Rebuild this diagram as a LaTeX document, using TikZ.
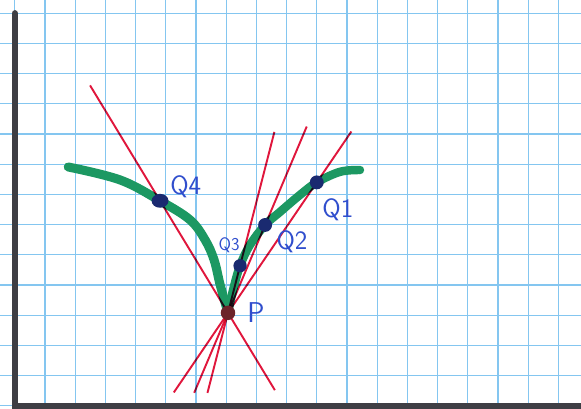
\documentclass[tikz,border=0pt]{standalone}
\definecolor{gridblue}{RGB}{132,198,240}
\definecolor{curvegreen}{RGB}{28,152,98}
\definecolor{chordred}{RGB}{224,22,60}
\definecolor{inkblue}{RGB}{48,78,205}
\definecolor{dotblue}{RGB}{26,42,112}
\definecolor{dotred}{RGB}{108,36,42}
\definecolor{axisgray}{RGB}{62,62,68}
\usepackage{tikz}
\usetikzlibrary{calc}

\begin{document}
\begin{tikzpicture}[
    chord/.style={chordred,line width=1.8pt},
    lbl/.style={text=inkblue,font=\sffamily\fontsize{25}{25}\selectfont,inner sep=0pt}
  ]
        \useasboundingbox (-0.49,-0.1) rectangle (18.75,13.44);
        \fill[white] (-0.49,-0.1) rectangle (18.75,13.44);
        \draw[gridblue,line width=1.1pt] (-0.49,-0.1) grid (18.75,13.44);
        \draw[axisgray,line width=6pt] (-0.1,0) -- (18.75,0);
        \draw[axisgray,line width=6pt,line cap=round] (0,0) -- (0,13.0);
        \coordinate (p) at (7.06,3.08);
        \coordinate (q1) at (10.0,7.40);
        \coordinate (q2) at (8.29,5.99);
        \coordinate (q3) at (7.46,4.64);
        \coordinate (q4) at (4.81,6.79);
        \draw[curvegreen,line width=8.5pt,line cap=round]
          plot[smooth,tension=0.6] coordinates {(1.77,7.91) (3.49,7.48) (q4) (5.80,6.16) (6.30,5.50) (6.60,4.83) (6.80,4.01) (p)};
        \draw[curvegreen,line width=8pt,line cap=round]
          plot[smooth,tension=0.6] coordinates {(p) (7.23,3.84) (q3) (7.79,5.33) (q2) (8.78,6.42) (9.45,6.99) (q1) (10.77,7.75) (11.43,7.81)};
        \begin{scope}[blend mode=multiply]
          \draw[chord] ($(p)!-0.69!(q4)$) -- ($(p)!2.03!(q4)$);
          \draw[chord] ($(p)!-1.70!(q3)$) -- ($(p)!3.84!(q3)$);
          \draw[chord] ($(p)!-0.91!(q2)$) -- ($(p)!2.12!(q2)$);
          \draw[chord] ($(p)!-0.61!(q1)$) -- ($(p)!1.39!(q1)$);
        \end{scope}
        \fill[dotblue] (q4) ellipse (0.28 and 0.23);
        \fill[dotblue] (q3) circle (0.22);
        \fill[dotblue] (q2) circle (0.23);
        \fill[dotblue] (q1) circle (0.23);
        \fill[dotred] (p) circle (0.24);
        \node[lbl] (q4text) at (5.66,7.25) {Q4};
        \node[lbl] (q1text) at (10.70,6.49) {Q1};
        \node[lbl] (q2text) at (9.18,5.43) {Q2};
        \node[lbl,font=\sffamily\fontsize{17}{17}\selectfont] (q3text) at (7.10,5.32) {Q3};
        \node[lbl,font=\sffamily\fontsize{27}{27}\selectfont] (ptext) at (7.99,3.10) {P};
      \end{tikzpicture}
\end{document}
